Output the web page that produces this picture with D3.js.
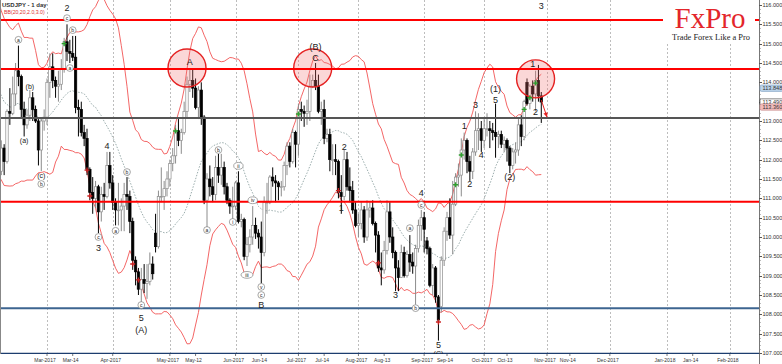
<!DOCTYPE html>
<html>
<head>
<meta charset="utf-8">
<script src="https://cdnjs.cloudflare.com/ajax/libs/d3/7.8.5/d3.min.js"></script>
<style>
body{margin:0;background:#fff}
svg{display:block}
text{font-family:"Liberation Sans",Arial,sans-serif}
</style>
</head>
<body>
<div id="chart"></div>
<script>
//Width and height
var w = 782;
var h = 364;
var plotRight = 759, plotBottom = 354;

//Daily bars USDJPY, first bar 2017-01-09 (Jan/Feb only warm up the bands)
var open = [
  116.9,115.95,115.75,115.35,114.5,114.45,114.2,112.75,113.2,114.95,114.6,112.8,113.8,113.3,115.1,115.1,113.75, //jan
  112.75,113.25,112.8,112.6,111.7,112.3,111.95,113.25,113.2,113.7,114.3,114.15,113.3,112.9,113.15,113.6,113.3,113.0,112.25,113.0, //feb
  113.1,114.0,114.4,114.05,113.9,113.95,114.35,115.05,114.8,114.75,114.65,113.35,113.3,112.7,112.55,111.75,111.15,111.0,111.3,110.65,111.1,111.05,111.85, //mar
  111.4,110.9,110.7,110.7,110.8,111.1,111.05,110.4,109.4,109.1,108.65,108.9,108.8,108.85,109.3,110.1,109.75,111.05,111.05,111.25, //apr
  111.5,111.9,112.1,112.75,112.5,112.7,113.25,113.95,114.05,113.85,113.35,113.8,113.1,110.95,111.5,111.3,111.1,111.8,111.6,111.8,111.3,110.95,110.8, //may
  110.8,111.4,110.4,110.45,109.5,109.8,110.0,110.3,110.1,110.0,109.6,110.9,110.9,111.55,111.45,111.4,111.3,111.3,111.85,112.35,111.95,112.7, //jun
  112.4,113.3,113.25,113.2,113.25,113.9,114.05,113.9,113.25,113.3,112.55,112.65,112.0,112.0,111.95,111.15,111.05,112.0,111.3,111.2,110.7, //jul
  110.3,110.35,110.7,110.0,110.7,110.75,110.35,110.05,109.2,109.15,109.65,110.65,110.0,109.6,109.2,108.95,109.6,109.0,109.55,109.35,109.25,109.7,110.3, //aug
  110.5,109.9,109.7,108.75,109.2,108.45,108.2,109.4,110.15,110.5,110.05,110.85,111.55,111.6,112.25,112.5,111.95,111.7,112.2,112.75,112.8, //sep
  112.5,112.8,112.8,112.75,112.7,112.6,112.65,112.4,112.5,112.3,111.85,112.2,112.25,112.9,112.6,114.0,113.45,113.9,113.7,114.05,113.65 //oct
];
var high = [
  117.05,116.55,116.85,115.45,115.2,114.5,114.3,113.9,115.2,115.4,114.65,114.0,113.85,115.3,115.4,115.3,114.0,
  113.4,113.4,113.2,112.65,112.5,112.4,113.3,113.85,114.15,114.5,114.95,114.2,113.5,113.3,113.8,113.75,113.4,113.05,113.05,113.3,
  114.1,114.75,114.75,114.15,114.3,114.6,115.15,115.5,115.1,115.2,115.2,113.55,113.5,112.9,112.8,111.8,111.55,111.45,111.35,111.3,111.4,112.2,112.2,
  111.6,111.0,111.4,111.0,111.4,111.55,111.2,110.5,109.5,109.2,109.2,109.3,109.3,109.6,109.5,110.6,111.2,111.8,111.45,111.7,
  112.0,112.3,112.9,113.05,112.8,113.5,114.15,114.35,114.35,114.1,113.9,114.0,113.15,111.65,111.85,111.55,112.1,112.15,112.15,111.95,111.4,111.0,111.3,
  111.45,111.7,110.6,110.5,110.0,110.2,110.8,110.5,110.2,110.4,111.05,111.4,111.6,111.8,111.6,111.45,111.45,111.95,112.45,112.45,112.8,112.75,
  113.45,113.5,113.4,113.55,114.2,114.2,114.5,114.2,113.5,113.55,112.8,112.8,112.4,112.4,112.0,111.6,112.25,112.2,111.8,111.45,110.9,
  110.6,110.9,110.8,110.95,110.9,110.95,110.4,110.15,109.6,109.9,110.95,110.9,110.25,109.65,109.4,109.8,109.75,109.65,110.05,109.6,109.8,110.45,110.7,
  110.65,110.0,109.75,109.3,109.25,108.5,109.5,110.25,110.65,111.0,111.45,111.65,111.9,112.55,112.7,112.55,112.1,112.3,113.25,113.2,113.0,
  113.05,113.2,113.0,112.95,113.45,112.75,112.75,112.6,112.55,112.35,112.3,112.45,113.05,113.15,113.55,114.1,113.95,114.05,114.3,114.45,113.75
];
var low = [
  115.75,115.6,114.25,113.75,114.1,113.9,112.55,112.6,113.1,114.4,112.5,112.7,112.9,113.2,114.5,113.6,112.1,
  112.1,112.5,112.05,111.6,111.6,111.6,111.9,112.9,113.15,113.4,113.9,113.1,112.6,112.8,113.0,113.0,112.95,111.85,111.7,112.75,
  112.9,113.6,113.85,113.6,113.5,113.8,114.25,114.55,114.5,114.55,113.2,112.6,112.6,112.35,111.6,110.95,110.6,110.75,110.1,110.4,110.7,111.0,111.25,
  110.7,110.3,110.3,110.15,110.15,110.7,110.1,109.15,108.75,108.5,108.13,108.55,108.4,108.75,108.9,109.6,109.7,110.9,110.7,111.05,
  111.3,111.7,111.9,112.35,112.15,112.65,113.1,113.75,113.6,113.3,113.05,112.9,110.85,110.25,111.05,110.9,110.95,111.4,111.35,111.1,110.85,110.6,110.45,
  110.7,110.35,110.25,109.4,109.25,109.6,109.8,109.95,109.7,108.8,109.5,110.6,110.85,111.3,110.9,110.95,111.05,111.2,111.6,111.8,111.9,111.8,
  112.1,113.0,112.85,112.9,113.0,113.85,113.8,113.2,112.9,112.4,112.45,111.7,111.6,111.6,111.0,110.6,110.95,111.2,110.9,110.6,110.25,
  110.0,110.2,109.85,109.9,110.5,110.3,109.6,109.1,108.75,109.05,109.55,109.85,109.45,108.6,108.6,108.95,108.95,108.95,109.1,109.05,108.25,109.6,109.9,
  109.6,109.55,108.7,108.5,108.3,107.32,108.05,109.25,109.9,109.95,109.55,110.8,111.3,111.05,112.0,111.65,111.45,111.5,112.1,112.25,112.2,
  112.3,112.6,112.3,112.5,112.05,112.3,112.3,112.2,111.95,111.65,111.75,111.9,112.1,112.35,112.5,113.4,113.3,113.5,113.25,113.5,112.95
];
var close = [
  115.95,115.75,115.35,114.5,114.45,114.2,112.75,113.2,114.95,114.6,112.8,113.8,113.3,115.1,115.1,113.75,112.75,
  113.25,112.8,112.6,111.7,112.3,111.95,113.25,113.2,113.7,114.3,114.15,113.3,112.9,113.15,113.6,113.3,113.0,112.25,113.0,113.1,
  114.0,114.4,114.05,113.9,113.95,114.35,115.05,114.8,114.75,114.65,113.35,113.3,112.7,112.55,111.75,111.15,111.0,111.3,110.65,111.1,111.05,111.85,111.4,
  110.9,110.7,110.7,110.8,111.1,111.05,110.4,109.4,109.1,108.65,108.9,108.8,108.85,109.3,109.05,109.75,111.05,111.05,111.25,111.5,
  111.9,112.1,112.75,112.5,112.7,113.25,113.95,114.05,113.85,113.35,113.8,113.1,110.95,111.5,111.3,111.1,111.8,111.6,111.8,111.3,110.95,110.8,110.8,
  111.4,110.4,110.45,109.5,109.8,110.0,110.3,110.1,110.0,109.6,110.9,110.9,111.55,111.45,111.4,111.3,111.3,111.85,112.35,111.95,112.7,112.4,
  113.3,113.25,113.2,113.25,113.9,114.05,113.9,113.25,113.3,112.55,112.65,112.0,112.0,111.95,111.15,111.05,112.0,111.3,111.2,110.7,110.3,
  110.35,110.7,110.0,110.7,110.75,110.35,110.05,109.2,109.15,109.65,110.65,110.0,109.6,109.2,108.95,109.6,109.0,109.55,109.35,109.25,109.7,110.3,110.5,
  110.2,109.7,108.75,109.2,108.45,107.85,109.4,110.15,110.5,110.05,110.85,111.55,111.6,112.25,112.5,111.95,111.7,112.2,112.75,112.8,112.5,
  112.8,112.8,112.75,112.7,112.6,112.65,112.4,112.5,112.3,111.85,112.2,112.25,112.9,112.6,113.5,113.45,113.9,113.7,114.05,113.65,113.49
];

//Horizontal levels drawn on the chart
var levelPrices = [115.61, 114.345, 113.08, 110.91, 108.16, 106.98];
var levelColors = ["#ff0000", "#ff0000", "#555555", "#ff0000", "#3d6590", "#1c3d6e"];

//Highlight circles
var ringDates = ["2017-05-09", "2017-07-10", "2017-10-26"];
var ringPrices = [114.37, 114.37, 114.09];

//Elliott wave labels
var waveDates = ["2017-03-10","2017-03-10","2017-03-14","2017-02-15","2017-02-21","2017-02-17","2017-03-13","2017-02-27","2017-02-27","2017-03-30","2017-04-10","2017-03-27","2017-03-27","2017-04-04","2017-04-17","2017-04-17","2017-04-17","2017-05-10","2017-05-18","2017-05-24","2017-06-02","2017-05-31","2017-06-07","2017-06-09","2017-06-14","2017-06-14","2017-06-14","2017-07-11","2017-07-11","2017-07-24","2017-07-25","2017-08-18","2017-08-25","2017-08-29","2017-08-31","2017-08-31","2017-09-08","2017-09-08","2017-09-21","2017-09-25","2017-09-27","2017-09-29","2017-10-06","2017-10-06","2017-10-13","2017-10-25","2017-10-26","2017-10-30"];
var wavePrices = [115.92,115.66,115.35,115.1,113.9,112.5,114.37,111.58,111.37,112.35,111.68,110.0,109.72,110.16,108.24,107.9,107.6,114.53,110.18,112.25,111.84,110.39,109.02,110.95,108.71,108.5,108.24,114.91,114.64,110.75,112.33,108.5,110.23,108.16,111.14,110.83,107.21,106.99,112.87,111.37,113.41,112.12,113.83,113.54,111.55,114.47,113.23,115.98];
var waveTexts = ["2","c","b","a","(b)","(a)","a","(c)","b","4","b","c","3","a","c","5","(A)","A","a","b","ii","i","iii","iv","v","c","B","(B)","C","1","2","3","a","b","4","c","5","(C)","1","2","3","4","(1)","5","(2)","1","2","3"];
var waveKinds = ["t","o","o","o","p","p","o","p","o","t","o","o","t","o","o","t","t","t","o","o","o","o","o","o","o","o","t","t","t","t","t","t","o","o","t","o","t","p","t","t","t","t","t","t","t","t","t","t"];

//Signal crosses
var greenDates = ["2017-03-09","2017-05-03","2017-07-03","2017-09-18","2017-09-20","2017-10-20","2017-10-24","2017-10-26"];
var greenPrices = [115.0, 112.74, 113.18, 111.35, 112.12, 113.3, 113.6, 113.98];
var redDates = ["2017-03-21","2017-03-22","2017-04-12","2017-04-14","2017-07-21","2017-08-10","2017-09-08"];
var redPrices = [111.73, 111.06, 109.3, 108.89, 111.2, 109.33, 107.8];

//Red arrow
var arrowDates = ["2017-10-30", "2017-11-01"];
var arrowPrices = [113.54, 113.1];

//Price tags on the axis
var tagPrices = [113.848, 113.49, 113.36];
var tagTexts = ["113.848", "113.490", "113.360"];
var tagFills = ["#bcd4ea", "#ffffff", "#f2bcbc"];
var tagStrokes = ["#7b9cc0", "#333333", "#c58888"];

//Time axis labels
var monthTexts = ["Mar-2017","Apr-2017","May-2017","Jun-2017","Jul-2017","Aug-2017","Sep-2017","Oct-2017","Nov-2017","Dec-2017","Jan-2018","Feb-2018"];
var minorDates = ["2017-03-14","2017-05-12","2017-06-14","2017-07-14","2017-08-14","2017-09-13","2017-10-12","2017-11-13","2018-01-15"];
var minorTexts = ["Mar-14","May-12","Jun-14","Jul-14","Aug-13","Sep-14","Oct-13","Nov-14","Jan-14"];

//Trading days (weekdays, no Christmas / New Year)
var days = [];
for (var t = Date.UTC(2017, 0, 9); t <= Date.UTC(2018, 1, 28); t += 864e5) {
    var dd = new Date(t), wd = dd.getUTCDay(), s = dd.toISOString().slice(0, 10);
    if (wd == 0 || wd == 6 || s == "2017-12-25" || s == "2018-01-01") continue;
    days.push(s);
}
function di(s) { return days.indexOf(s); }

var x = d3.scaleLinear()
    .domain([di("2017-03-01"), di("2017-11-01")])
    .range([47, 547]);
var y = d3.scaleLinear()
    .domain([107, 116])
    .range([353, 5]);

var svg = d3.select("#chart")
    .append("svg")
    .attr("width", w)
    .attr("height", h);

svg.append("defs").append("clipPath").attr("id", "plot")
    .append("rect").attr("x", 0).attr("y", 0).attr("width", plotRight).attr("height", plotBottom);

var plot = svg.append("g").attr("clip-path", "url(#plot)");

//month grid
var monthIdx = monthTexts.map(function (m, i) {
    var ym = d3.timeFormat("%Y-%m")(new Date(Date.UTC(2017, 2 + i, 15)));
    return days.findIndex(function (d) { return d.slice(0, 7) == ym; });
});
plot.selectAll(".grid").data(monthIdx).enter().append("line")
    .attr("x1", function (d) { return Math.round(x(d)) + 0.5; })
    .attr("x2", function (d) { return Math.round(x(d)) + 0.5; })
    .attr("y1", 0).attr("y2", plotBottom)
    .attr("stroke", "#bdbdbd").attr("stroke-dasharray", "2,2");

//Bollinger bands, period 20
var bands = [];
for (var i = 19; i < close.length; i++) {
    var win = close.slice(i - 19, i + 1);
    var m = d3.mean(win);
    var sd = Math.sqrt(d3.mean(win, function (v) { return (v - m) * (v - m); }));
    bands.push({i: i, mid: m, up: m + 2.1 * sd, lo: m - 2.1 * sd});
}
function bandLine(key) {
    return d3.line().x(function (d) { return x(d.i); }).y(function (d) { return y(d[key]); });
}
plot.append("path").datum(bands).attr("d", bandLine("mid"))
    .attr("fill", "none").attr("stroke", "#8fa3a3").attr("stroke-width", 0.9).attr("stroke-dasharray", "1.5,1.5");
["up", "lo"].forEach(function (k) {
    plot.append("path").datum(bands).attr("d", bandLine(k))
        .attr("fill", "none").attr("stroke", "#f25555").attr("stroke-width", 0.9);
});

//candles
var bars = d3.range(close.length);
var candle = plot.selectAll(".candle").data(bars).enter().append("g");
candle.append("line")
    .attr("x1", function (i) { return x(i); })
    .attr("x2", function (i) { return x(i); })
    .attr("y1", function (i) { return y(high[i]); })
    .attr("y2", function (i) { return y(low[i]); })
    .attr("stroke", function (i) { return close[i] >= open[i] ? "#8c8c8c" : "#000"; })
    .attr("stroke-width", 1);
candle.append("rect")
    .attr("x", function (i) { return x(i) - 1.2; })
    .attr("width", 2.4)
    .attr("y", function (i) { return y(Math.max(open[i], close[i])); })
    .attr("height", function (i) { return Math.max(0.8, Math.abs(y(open[i]) - y(close[i]))); })
    .attr("fill", function (i) { return close[i] >= open[i] ? "#fff" : "#000"; })
    .attr("stroke", function (i) { return close[i] >= open[i] ? "#8c8c8c" : "#000"; })
    .attr("stroke-width", 0.7);

//highlight rings
plot.selectAll(".ring").data(ringDates).enter().append("circle")
    .attr("cx", function (d) { return x(di(d)); })
    .attr("cy", function (d, i) { return y(ringPrices[i]); })
    .attr("r", 19)
    .attr("fill", "rgba(240,110,110,0.28)")
    .attr("stroke", "#e52222").attr("stroke-width", 1.4);

//levels
plot.selectAll(".level").data(levelPrices).enter().append("line")
    .attr("x1", 0).attr("x2", plotRight)
    .attr("y1", function (d) { return y(d); })
    .attr("y2", function (d) { return y(d); })
    .attr("stroke", function (d, i) { return levelColors[i]; })
    .attr("stroke-width", 2);

//crosses
function cross(dates, prices, col) {
    dates.forEach(function (d, i) {
        var cx = x(di(d)), cy = y(prices[i]);
        plot.append("path").attr("d", "M" + (cx - 2.5) + "," + cy + "h5M" + cx + "," + (cy - 2.5) + "v5")
            .attr("stroke", col).attr("stroke-width", 1.4);
    });
}
cross(greenDates, greenPrices, "#2ea02e");
cross(redDates, redPrices, "#c81e1e");

//arrow
var ax1 = x(di(arrowDates[0])), ay1 = y(arrowPrices[0]);
var ax2 = x(di(arrowDates[1])), ay2 = y(arrowPrices[1]);
plot.append("line").attr("x1", ax1).attr("y1", ay1).attr("x2", ax2).attr("y2", ay2)
    .attr("stroke", "#e52222").attr("stroke-width", 1);
var ang = Math.atan2(ay2 - ay1, ax2 - ax1);
plot.append("path")
    .attr("d", "M" + ax2 + "," + ay2 +
        "L" + (ax2 - 5 * Math.cos(ang - 0.45)) + "," + (ay2 - 5 * Math.sin(ang - 0.45)) +
        "L" + (ax2 - 5 * Math.cos(ang + 0.45)) + "," + (ay2 - 5 * Math.sin(ang + 0.45)) + "Z")
    .attr("fill", "#e52222");

//wave labels
waveTexts.forEach(function (txt, i) {
    var lx = x(di(waveDates[i])), ly = y(wavePrices[i]), k = waveKinds[i];
    if (k == "o") {
        plot.append("ellipse").attr("cx", lx).attr("cy", ly)
            .attr("rx", 3.4 + Math.max(0, txt.length - 1) * 1.3).attr("ry", 3.4)
            .attr("fill", "#fff").attr("stroke", "#6d6d6d").attr("stroke-width", 0.6);
    }
    plot.append("text").attr("x", lx).attr("y", ly)
        .attr("text-anchor", "middle").attr("dominant-baseline", "central")
        .attr("font-size", k == "t" ? 9 : (k == "p" ? 7 : 5))
        .attr("fill", "#222")
        .text(txt);
});

//frame
svg.append("line").attr("x1", 0.5).attr("x2", 0.5).attr("y1", 0).attr("y2", plotBottom)
    .attr("stroke", "#888").attr("stroke-width", 1);
svg.append("line").attr("x1", plotRight + 0.5).attr("x2", plotRight + 0.5).attr("y1", 0).attr("y2", h)
    .attr("stroke", "#777").attr("stroke-width", 1);

//price axis
var ticks = d3.range(107, 116.01, 0.5);
var minor = d3.range(107, 116.01, 0.1);
svg.selectAll(".mt").data(minor).enter().append("line")
    .attr("x1", plotRight).attr("x2", plotRight + 1.5)
    .attr("y1", function (d) { return Math.round(y(d)) + 0.5; })
    .attr("y2", function (d) { return Math.round(y(d)) + 0.5; })
    .attr("stroke", "#777");
svg.selectAll(".pt").data(ticks).enter().append("line")
    .attr("x1", plotRight).attr("x2", plotRight + 3)
    .attr("y1", function (d) { return Math.round(y(d)) + 0.5; })
    .attr("y2", function (d) { return Math.round(y(d)) + 0.5; })
    .attr("stroke", "#555");
svg.selectAll(".pl").data(ticks).enter().append("text")
    .attr("x", plotRight + 3.5)
    .attr("y", function (d) { return y(d) + 2; })
    .attr("font-size", 5.6).attr("fill", "#333")
    .text(d3.format(".3f"));

tagPrices.forEach(function (p, i) {
    svg.append("rect").attr("x", plotRight + 1).attr("y", y(p) - 3.2).attr("width", 23).attr("height", 6.4)
        .attr("rx", 1.5).attr("fill", tagFills[i]).attr("stroke", tagStrokes[i]).attr("stroke-width", 0.6);
    svg.append("text").attr("x", plotRight + 3.5).attr("y", y(p) + 2)
        .attr("font-size", 5.6).attr("fill", "#333").text(tagTexts[i]);
});

//time axis
monthIdx.forEach(function (d, i) {
    svg.append("text").attr("x", x(d) - 2).attr("y", 362)
        .attr("text-anchor", "middle").attr("font-size", 5).attr("fill", "#333")
        .text(monthTexts[i]);
    svg.append("line").attr("x1", x(d)).attr("x2", x(d)).attr("y1", plotBottom).attr("y2", plotBottom + 2)
        .attr("stroke", "#777");
});
minorDates.forEach(function (d, i) {
    svg.append("text").attr("x", x(di(d)) - 2).attr("y", 362)
        .attr("text-anchor", "middle").attr("font-size", 5).attr("fill", "#333")
        .text(minorTexts[i]);
    svg.append("line").attr("x1", x(di(d))).attr("x2", x(di(d))).attr("y1", plotBottom).attr("y2", plotBottom + 2)
        .attr("stroke", "#777");
});

//title
svg.append("text").attr("x", 2).attr("y", 6.8).attr("font-size", 6).attr("font-weight", "bold")
    .attr("fill", "#333").text("USDJPY - 1 day");
svg.append("text").attr("x", 4).attr("y", 14).attr("font-size", 5.2)
    .attr("fill", "#e03030").text("BB(20,20,2.0,3.0)");

//logo
svg.append("rect").attr("x", 663).attr("y", 0).attr("width", 92).attr("height", 44).attr("fill", "#fff");
svg.append("text").attr("x", 710).attr("y", 28).attr("text-anchor", "middle")
    .style("font-family", "'Liberation Serif','DejaVu Serif',serif")
    .attr("font-size", 29).attr("fill", "#e3262b").text("FxPro");
svg.append("text").attr("x", 711).attr("y", 40).attr("text-anchor", "middle")
    .style("font-family", "'Liberation Serif','DejaVu Serif',serif")
    .attr("font-size", 8.4).attr("fill", "#222").text("Trade Forex Like a Pro");
</script>
</body>
</html>
